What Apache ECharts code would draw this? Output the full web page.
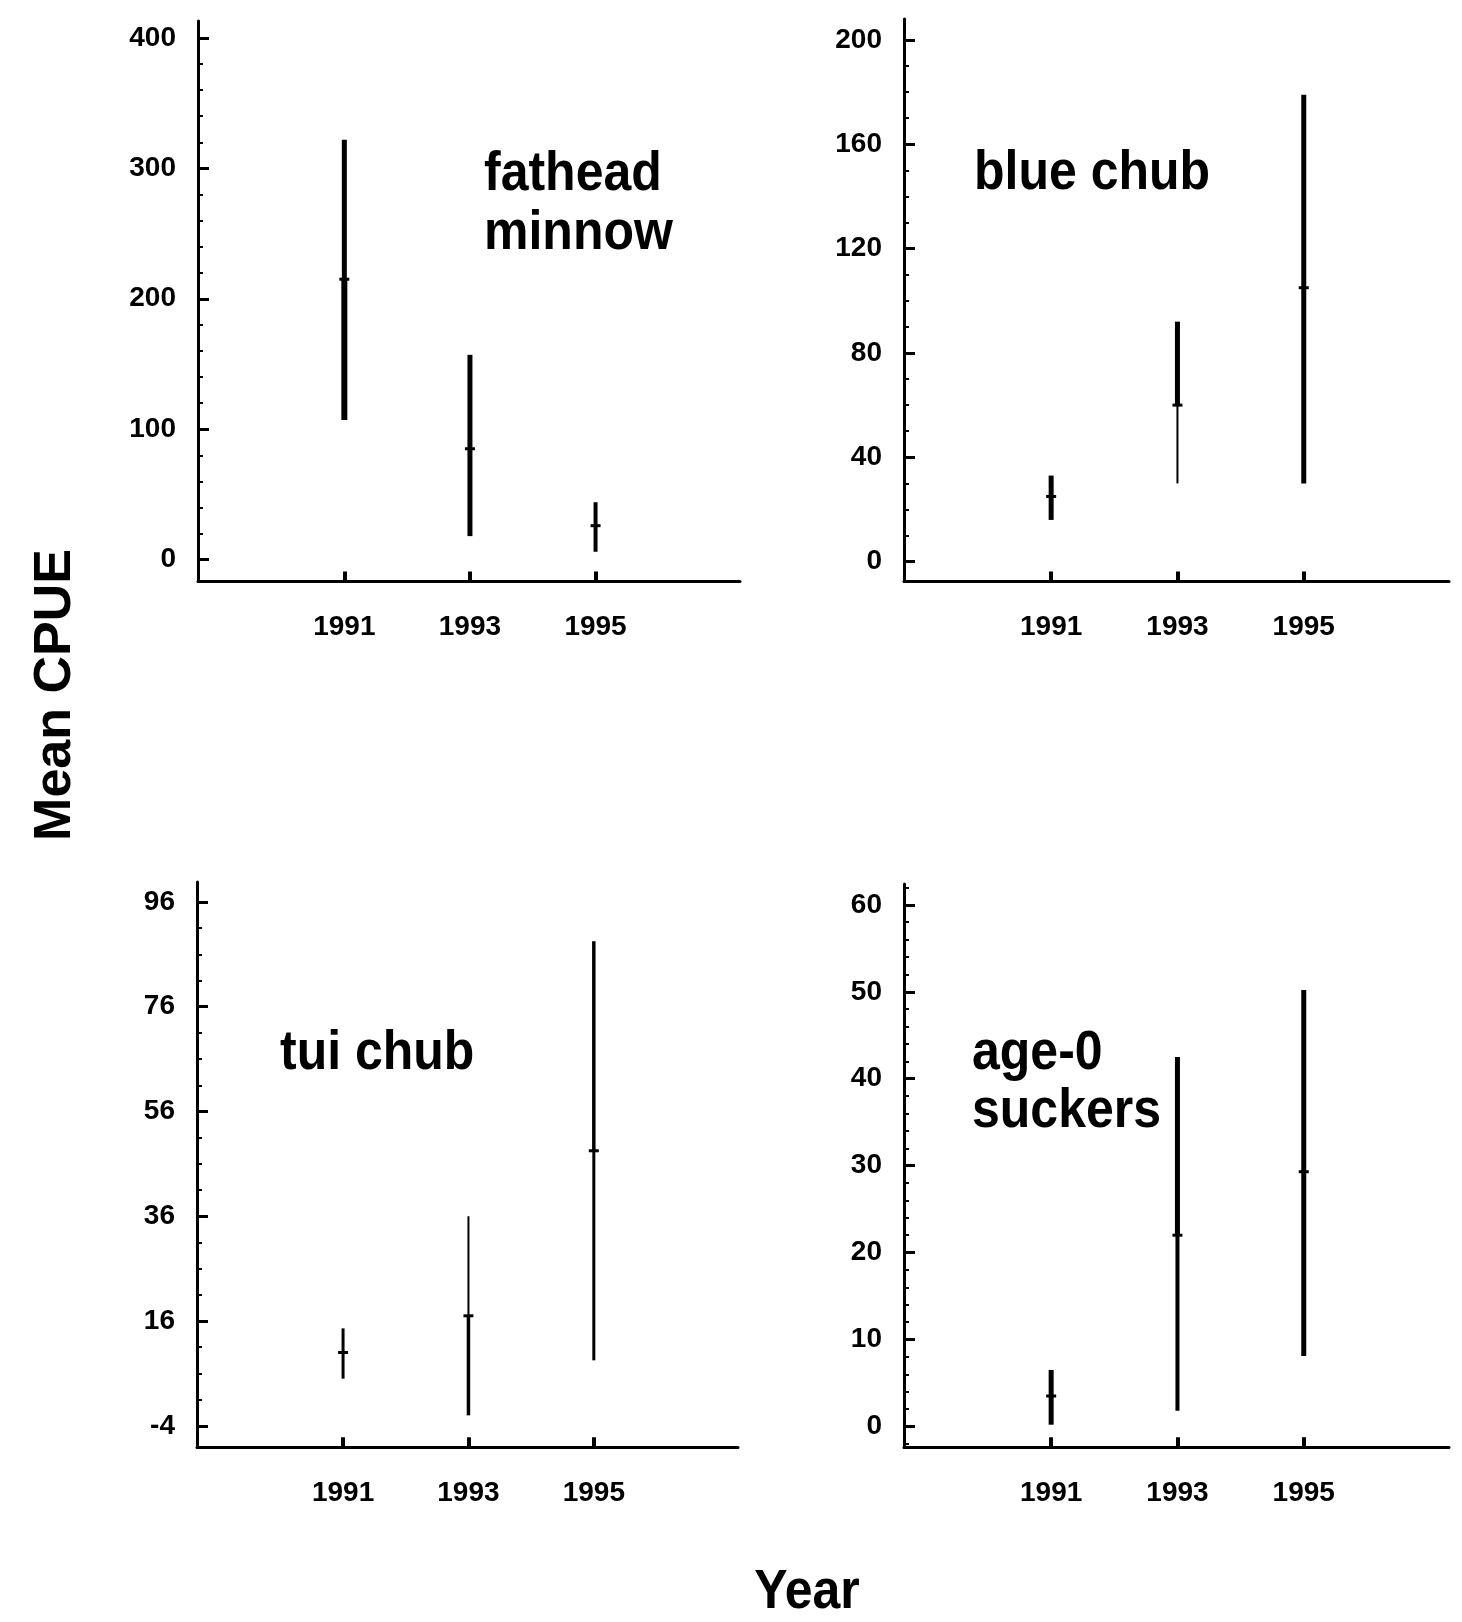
<!DOCTYPE html>
<html>
<head>
<meta charset="utf-8">
<title>Mean CPUE by year</title>
<script src="https://cdn.jsdelivr.net/npm/echarts@6/dist/echarts.min.js"></script>
<style>
html, body { margin: 0; padding: 0; background: #fff; }
#main { width: 1462px; height: 1622px; }
</style>
</head>
<body>
<div id="main"></div>
<script>
// survey years (x axis)
var years = [1991, 1993, 1995];

// fathead minnow
var fatheadMean = [215, 85, 26];
var fatheadLow = [107, 18, 6];
var fatheadHigh = [322, 157, 44];
var fatheadTicks = [0, 100, 200, 300, 400];

// blue chub
var blueMean = [25, 60, 105];
var blueLow = [16, 30, 30];
var blueHigh = [33, 92, 179];
var blueTicks = [0, 40, 80, 120, 160, 200];

// tui chub
var tuiMean = [10, 17, 48.5];
var tuiLow = [5, -2, 8.5];
var tuiHigh = [14.6, 36, 88.5];
var tuiTicks = [-4, 16, 36, 56, 76, 96];

// age-0 suckers
var age0Mean = [3.5, 22, 29.3];
var age0Low = [0.2, 1.8, 8.1];
var age0High = [6.5, 42.5, 50.2];
var age0Ticks = [0, 10, 20, 30, 40, 50, 60];

var FONT = 'Liberation Sans';

// layout of each panel (positions/styles only)
var panels = [
    { mean: fatheadMean, low: fatheadLow, high: fatheadHigh, ticks: fatheadTicks, minorStep: 20,
      min: -16.8, max: 413, grid: { left: 198, top: 21, width: 542, height: 560.5 },
      widths: [[5, 6], [5, 5], [4, 4]] },
    { mean: blueMean, low: blueLow, high: blueHigh, ticks: blueTicks, minorStep: 10,
      min: -7.6, max: 208, grid: { left: 904, top: 19, width: 545, height: 562.5 },
      widths: [[5, 5], [5, 2], [5, 5]] },
    { mean: tuiMean, low: tuiLow, high: tuiHigh, ticks: tuiTicks, minorStep: 5,
      min: -8.1, max: 99.8, grid: { left: 197, top: 882, width: 541, height: 565.3 },
      widths: [[3, 3], [2, 3.5], [3.5, 3]] },
    { mean: age0Mean, low: age0Low, high: age0High, ticks: age0Ticks, minorStep: 2,
      min: -2.4, max: 62.4, grid: { left: 904, top: 884, width: 545, height: 563.3 },
      widths: [[5, 5], [5, 4], [5, 5]] }
];

// minor tick positions along the y axis, stepped from the first labelled tick
function minorTicks(p) {
    var out = [];
    var start = p.ticks[0];
    while (start - p.minorStep >= p.min) start -= p.minorStep;
    for (var v = start; v <= p.max + 1e-9; v += p.minorStep) {
        if (p.ticks.indexOf(Math.round(v * 1000) / 1000) < 0) out.push(v);
    }
    return out;
}

function makeRender(widths) {
    return function (params, api) {
        var x = api.value(0);
        var lo = api.coord([x, api.value(1)]);
        var hi = api.coord([x, api.value(2)]);
        var mid = api.coord([x, api.value(3)]);
        var w = widths[params.dataIndex];
        return {
            type: 'group',
            children: [
                { type: 'line', shape: { x1: mid[0], y1: mid[1], x2: hi[0], y2: hi[1] },
                  style: { stroke: '#000', lineWidth: w[0] } },
                { type: 'line', shape: { x1: lo[0], y1: lo[1], x2: mid[0], y2: mid[1] },
                  style: { stroke: '#000', lineWidth: w[1] } },
                { type: 'line', shape: { x1: mid[0] - 5, y1: mid[1], x2: mid[0] + 5, y2: mid[1] },
                  style: { stroke: '#000', lineWidth: 3 } }
            ]
        };
    };
}

var grids = [], xAxes = [], yAxes = [], series = [];

panels.forEach(function (p, i) {
    grids.push(Object.assign({ outerBoundsMode: 'none' }, p.grid));
    xAxes.push({
        type: 'value', gridIndex: i, min: 1988.67, max: 1997.3,
        splitLine: { show: false },
        axisLine: { onZero: false, lineStyle: { color: '#000', width: 3 } },
        axisTick: { inside: true, length: 10, customValues: years, lineStyle: { color: '#000', width: 4 } },
        axisLabel: { customValues: years, margin: 32, color: '#000', fontSize: 28, fontWeight: 'bold', fontFamily: FONT,
                     formatter: function (v) { return String(v); } }
    });
    yAxes.push({
        type: 'value', gridIndex: i, min: p.min, max: p.max, position: 'left',
        splitLine: { show: false },
        axisLine: { onZero: false, lineStyle: { color: '#000', width: 3 } },
        axisTick: { inside: true, length: 11, customValues: p.ticks, lineStyle: { color: '#000', width: 3 } },
        axisLabel: { customValues: p.ticks, margin: 22, color: '#000', fontSize: 28, fontWeight: 'bold', fontFamily: FONT,
                     formatter: function (v) { return String(v); } }
    });
    // second axis only for the small minor ticks
    yAxes.push({
        type: 'value', gridIndex: i, min: p.min, max: p.max, position: 'left', offset: 0,
        splitLine: { show: false },
        axisLine: { show: false, onZero: false },
        axisTick: { inside: true, length: 5, customValues: minorTicks(p), lineStyle: { color: '#000', width: 2 } },
        axisLabel: { show: false }
    });
    series.push({
        type: 'custom',
        xAxisIndex: i,
        yAxisIndex: i * 2,
        renderItem: makeRender(p.widths),
        encode: { x: 0, y: [1, 2, 3] },
        data: years.map(function (y, k) { return [y, p.low[k], p.high[k], p.mean[k]]; }),
        silent: true
    });
});

function label(text, x, y, lh) {
    return {
        type: 'text', x: x, y: y, scaleY: 1.12,
        style: { text: text, fontSize: 50, fontWeight: 'bold', fontFamily: FONT, lineHeight: lh,
                 fill: '#000', align: 'left', verticalAlign: 'top' }
    };
}

var chart = echarts.init(document.getElementById('main'), null, { renderer: 'canvas' });
chart.setOption({
    backgroundColor: '#fff',
    animation: false,
    grid: grids,
    xAxis: xAxes,
    yAxis: yAxes,
    series: series,
    graphic: [
        label('fathead\nminnow', 484, 145, 53),
        label('blue chub', 974, 144, 53),
        label('tui chub', 280, 1024, 53),
        label('age-0\nsuckers', 972, 1024, 52),
        {
            type: 'text', x: 56, y: 695, rotation: Math.PI / 2,
            style: { text: 'Mean CPUE', fontSize: 52, fontWeight: 'bold', fontFamily: FONT,
                     fill: '#000', align: 'center', verticalAlign: 'middle' }
        },
        {
            type: 'text', x: 807, y: 1565, scaleY: 1.12,
            style: { text: 'Year', fontSize: 50, fontWeight: 'bold', fontFamily: FONT, lineHeight: 50,
                     fill: '#000', align: 'center', verticalAlign: 'top' }
        }
    ]
});
</script>
</body>
</html>
